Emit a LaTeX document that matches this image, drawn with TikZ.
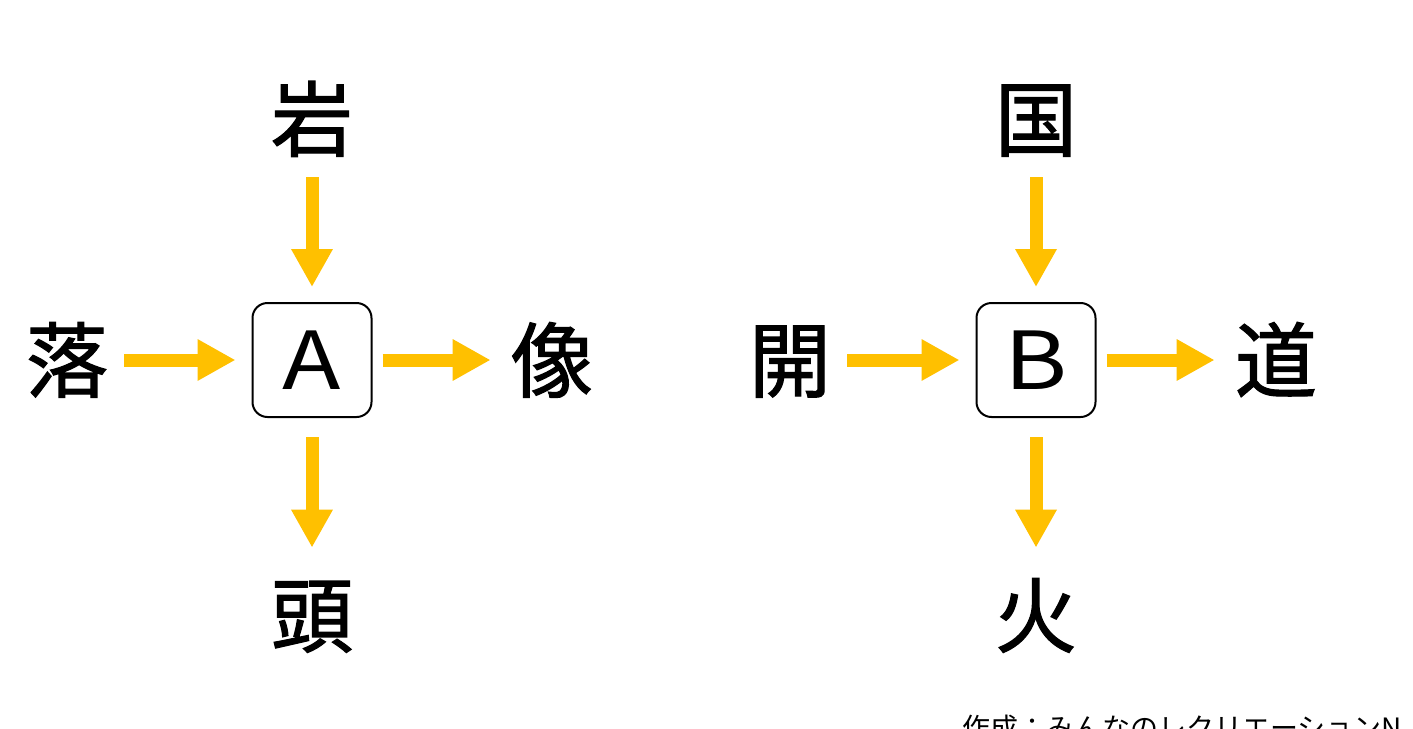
\documentclass[tikz,border=0pt]{standalone}
\usepackage{fontspec}
\setmainfont{Noto Sans CJK JP}
\newfontfamily\kjfont[FakeBold=1.4]{Noto Sans CJK JP}
\newfontfamily\abfont[FakeStretch=1.2]{Noto Sans CJK JP}
\usetikzlibrary{arrows.meta}
\definecolor{arrowyellow}{HTML}{FFC000}
\tikzset{
  kanji/.style={inner sep=0pt, minimum width=40pt, minimum height=40pt, font=\kjfont\fontsize{41}{41}\selectfont, text height=36pt, text depth=5pt},
  letterbox/.style={draw=black, line width=1pt, rounded corners=7.5pt, minimum width=59.5pt, minimum height=57pt, inner sep=0pt, font=\abfont\fontsize{40}{40}\selectfont},
  yarrow/.style={draw=arrowyellow, line width=6.5pt, -{Triangle[width=19.5pt,length=19pt]}},
  credit/.style={inner sep=0pt, anchor=west, font=\fontsize{14}{14}\selectfont}
}
\begin{document}
\begin{tikzpicture}[x=0.5pt,y=-0.5pt]
\useasboundingbox (0,0) rectangle (1413,728);
\clip (0,0) rectangle (1413,728);
\fill[white] (0,0) rectangle (1413,728);
% Group A
\node[letterbox] (boxA) at (312,360) {A};
\node[kanji] (gan) at (312,119) {岩};
\node[kanji] (raku) at (67,360) {落};
\node[kanji] (zou) at (552,360) {像};
\node[kanji] (tou) at (312,615) {頭};
\draw[yarrow, shorten <=8.5pt, shorten >=7.5pt] (gan) -- (boxA);
\draw[yarrow, shorten <=8pt, shorten >=8pt] (raku) -- (boxA);
\draw[yarrow, shorten <=5pt, shorten >=10pt] (boxA) -- (zou);
\draw[yarrow, shorten <=9.5pt, shorten >=13pt] (boxA) -- (tou);
% Group B
\node[letterbox] (boxB) at (1036,360) {B};
\node[kanji] (koku) at (1036,119) {国};
\node[kanji] (kai) at (790,360) {開};
\node[kanji] (dou) at (1276,360) {道};
\node[kanji] (hi) at (1036,615) {火};
\draw[yarrow, shorten <=8.5pt, shorten >=7.5pt] (koku) -- (boxB);
\draw[yarrow, shorten <=8pt, shorten >=8pt] (kai) -- (boxB);
\draw[yarrow, shorten <=5pt, shorten >=10pt] (boxB) -- (dou);
\draw[yarrow, shorten <=9.5pt, shorten >=13pt] (boxB) -- (hi);
% credit
\node[credit] (credit) at (962,728) {作成：みんなのレクリエーションN};
\end{tikzpicture}
\end{document}
